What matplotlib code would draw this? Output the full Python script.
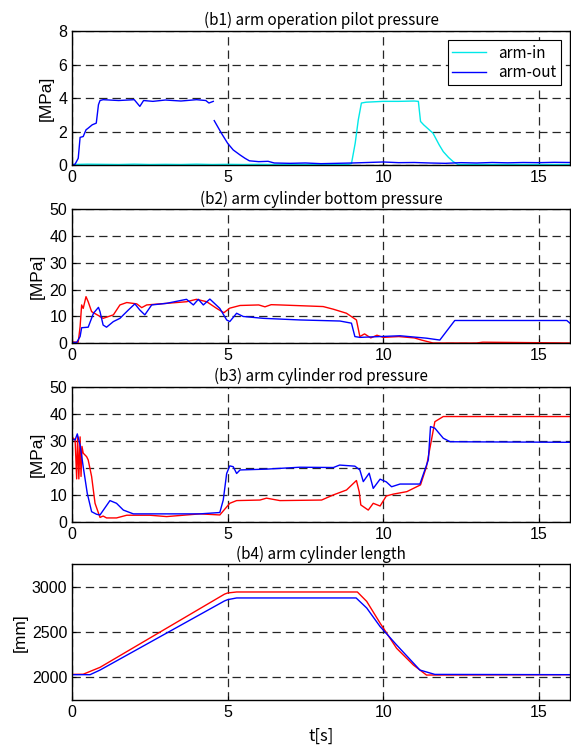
import matplotlib
matplotlib.use('Agg')
import matplotlib.pyplot as plt
import numpy as np

plt.rcParams['lines.scale_dashes'] = False
plt.rcParams['font.family'] = ['Liberation Sans', 'DejaVu Sans']

nan = np.nan

# (b1) arm operation pilot pressure [MPa]
t_pilot_in = [0, 0.5, 1.0, 1.5, 2.0, 2.5, 3.0, 3.5, 4.0, 4.5, 5.0, 5.5, 6.0, 6.5, 7.0, 7.5, 8.0, 8.5,
              8.9, 8.98, 9.1, 9.2, 9.3, 9.45, 10.0, 10.5, 11.0, 11.13, 11.2, 11.3, 11.6, 11.8, 11.93,
              12.1, 12.25, 12.4, 13.0, 14.0, 15.0, 16.0]
p_pilot_in = [0.03, 0.05, 0.04, 0.03, 0.05, 0.03, 0.04, 0.03, 0.05, 0.03, 0.04, 0.03, 0.04, 0.03,
              0.04, 0.03, 0.04, 0.03, 0.04, 0.08, 1.3, 2.7, 3.7, 3.75, 3.8, 3.8, 3.82, 3.8, 2.6,
              2.4, 1.9, 1.2, 0.8, 0.45, 0.2, 0.03, 0.03, 0.03, 0.03, 0.03]
t_pilot_out = [0, 0.1, 0.2, 0.26, 0.36, 0.45, 0.52, 0.65, 0.78, 0.85, 0.9, 1.0, 1.5, 2.0, 2.18,
               2.3, 2.6, 3.0, 3.5, 4.0, 4.3, 4.4, 4.54, 4.55, 4.57, 4.8, 5.0, 5.18, 5.4, 5.56, 5.7,
               6.0, 6.3, 6.5, 7.0, 7.5, 8.0, 8.5, 9.0, 9.5, 10.0, 10.5, 11.0, 11.5, 12.0, 12.5,
               13.0, 13.5, 14.0, 14.5, 15.0, 15.5, 16.0]
p_pilot_out = [0.0, 0.05, 0.4, 1.65, 1.7, 2.1, 2.2, 2.4, 2.5, 3.6, 3.85, 3.9, 3.85, 3.9, 3.5,
               3.85, 3.8, 3.88, 3.82, 3.9, 3.85, 3.7, 3.8, nan, 2.65, 1.9, 1.3, 0.9, 0.6, 0.4,
               0.25, 0.2, 0.22, 0.12, 0.1, 0.12, 0.08, 0.1, 0.12, 0.15, 0.18, 0.14, 0.15, 0.12,
               0.1, 0.14, 0.12, 0.15, 0.13, 0.15, 0.14, 0.16, 0.15]

# (b2) arm cylinder bottom pressure [MPa]
t_bot_r = [0, 0.2, 0.26, 0.31, 0.36, 0.45, 0.52, 0.63, 0.9, 1.0, 1.33, 1.54, 1.76, 2.08, 2.24,
           2.4, 3.04, 3.68, 4.0, 4.33, 4.65, 4.88, 5.07, 5.4, 6.0, 6.2, 6.4, 6.68, 8.07, 8.4,
           8.82, 9.14, 9.25, 9.4, 9.6, 9.8, 10.0, 10.5, 11.0, 11.23, 11.6, 13.0, 13.2, 16.0]
p_bot_r = [0.5, 0.4, 6.2, 14.3, 13.0, 17.4, 15.5, 11.8, 10.0, 9.3, 10.6, 14.3, 15.2, 14.7, 13.3,
           14.3, 14.9, 15.5, 16.4, 15.5, 13.0, 11.4, 13.1, 14.1, 14.3, 13.6, 14.4, 14.3, 13.7,
           12.7, 11.2, 8.7, 2.5, 3.5, 2.0, 3.0, 2.2, 2.5, 2.0, 1.2, 0.1, 0.1, 0.4, 0.1]
t_bot_b = [0, 0.15, 0.26, 0.31, 0.52, 0.69, 0.85, 0.9, 1.0, 1.11, 1.33, 1.54, 1.81, 2.02, 2.18,
           2.34, 2.56, 3.04, 3.68, 3.9, 4.06, 4.22, 4.43, 4.75, 4.97, 5.07, 5.29, 5.5, 6.15,
           7.32, 8.61, 8.98, 9.09, 9.25, 9.9, 10.54, 11.39, 11.82, 12.03, 12.3, 15.9, 16.0]
p_bot_b = [0.3, 0.3, 2.5, 5.8, 6.0, 11.2, 13.4, 11.8, 6.8, 6.0, 8.1, 9.3, 12.4, 14.7, 12.4,
           10.6, 14.3, 14.9, 16.4, 14.3, 16.4, 14.3, 16.5, 13.0, 8.7, 8.1, 11.2, 10.0, 9.3,
           8.7, 8.3, 7.5, 2.5, 2.2, 2.5, 2.8, 1.9, 1.2, 4.4, 8.5, 8.5, 7.5]

# (b3) arm cylinder rod pressure [MPa]
t_rod_r = [0, 0.1, 0.15, 0.18, 0.22, 0.26, 0.29, 0.32, 0.36, 0.47, 0.52, 0.63, 0.74, 0.9, 1.0,
           1.11, 1.43, 1.76, 2.5, 3.04, 4.11, 4.75, 5.07, 5.29, 6.04, 6.25, 6.68, 8.02, 8.4,
           8.82, 9.14, 9.23, 9.28, 9.52, 9.68, 9.9, 10.1, 10.33, 10.76, 11.2, 11.39, 11.66,
           11.93, 16.0]
p_rod_r = [31.4, 30.4, 16.0, 31.6, 16.0, 31.5, 16.9, 28.0, 25.5, 24.2, 23.0, 16.9, 7.0, 1.8,
           2.3, 1.6, 1.6, 2.6, 2.6, 2.1, 3.1, 2.7, 7.0, 8.0, 8.2, 8.9, 8.0, 8.2, 10.1, 11.9,
           15.4, 11.2, 6.4, 4.5, 7.0, 6.0, 9.7, 10.4, 11.3, 13.8, 20.5, 37.1, 39.0, 39.0]
t_rod_b = [0, 0.1, 0.17, 0.26, 0.36, 0.49, 0.63, 0.79, 0.9, 1.22, 1.43, 1.65, 1.97, 2.5, 3.04,
           4.11, 4.75, 4.86, 4.97, 5.07, 5.18, 5.29, 5.4, 6.25, 7.32, 8.4, 8.6, 9.09, 9.25,
           9.36, 9.55, 9.68, 9.9, 10.1, 10.27, 10.54, 11.18, 11.45, 11.52, 11.66, 11.93,
           12.15, 16.0]
p_rod_b = [30.6, 30.4, 32.6, 28.5, 20.5, 10.7, 3.9, 2.95, 2.7, 8.0, 7.0, 4.5, 3.1, 3.1, 3.1,
           3.1, 3.6, 8.2, 18.0, 20.8, 20.5, 18.0, 19.3, 19.6, 20.3, 20.2, 21.1, 20.7, 19.3,
           15.0, 18.1, 12.5, 15.9, 14.9, 13.1, 14.1, 14.1, 23.0, 35.3, 34.7, 31.0, 29.7, 29.5]

# (b4) arm cylinder length [mm]
t_len_r = [0, 0.36, 0.9, 4.9, 5.0, 5.29, 9.17, 9.47, 9.9, 10.43, 10.97, 11.39, 16.0]
l_len_r = [2033, 2035, 2111, 2920, 2933, 2944, 2944, 2840, 2600, 2322, 2137, 2026, 2030]
t_len_b = [0, 0.58, 0.9, 4.9, 5.0, 5.29, 9.13, 9.47, 9.9, 10.43, 11.18, 11.66, 16.0]
l_len_b = [2030, 2030, 2081, 2845, 2859, 2878, 2878, 2767, 2562, 2359, 2081, 2033, 2030]

titles = ['(b1) arm operation pilot pressure', '(b2) arm cylinder bottom pressure',
          '(b3) arm cylinder rod pressure', '(b4) arm cylinder length']
title_font = ['Noto Sans CJK JP', 'DejaVu Sans']

fig = plt.figure(figsize=(5.71, 7.49), dpi=100)
rects = [(0.1261, 0.7797, 0.872, 0.1789),
         (0.1261, 0.5417, 0.872, 0.1789),
         (0.1261, 0.3027, 0.872, 0.1810),
         (0.1261, 0.0654, 0.872, 0.1812)]
axes = [fig.add_axes(r) for r in rects]

axes[0].plot(t_pilot_in, p_pilot_in, color='#00e8e8', lw=1.0, label='arm-in')
axes[0].plot(t_pilot_out, p_pilot_out, color='#0000ff', lw=1.0, label='arm-out')
axes[1].plot(t_bot_r, p_bot_r, color='#ff0000', lw=1.0)
axes[1].plot(t_bot_b, p_bot_b, color='#0000ff', lw=1.0)
axes[2].plot(t_rod_r, p_rod_r, color='#ff0000', lw=1.0)
axes[2].plot(t_rod_b, p_rod_b, color='#0000ff', lw=1.0)
axes[3].plot(t_len_r, l_len_r, color='#ff0000', lw=1.0)
axes[3].plot(t_len_b, l_len_b, color='#0000ff', lw=1.0)

ylims = [(0, 8), (0, 50), (0, 50), (1750, 3250)]
yticks = [[0, 2, 4, 6, 8], [0, 10, 20, 30, 40, 50], [0, 10, 20, 30, 40, 50], [2000, 2500, 3000]]
ylabels = ['[MPa]', '[MPa]', '[MPa]', '[mm]']

for ax, title, yl, yt, ylab in zip(axes, titles, ylims, yticks, ylabels):
    ax.set_xlim(0, 16)
    ax.set_ylim(*yl)
    ax.set_xticks([0, 5, 10, 15])
    ax.set_yticks(yt)
    ax.tick_params(direction='in', length=3, labelsize=11.5, width=0.8)
    ax.grid(True, color='0.15', lw=0.9, linestyle=(0, (6, 3.6)))
    ax.set_title(title, fontsize=11, family=title_font, pad=4)
    ax.set_ylabel(ylab, fontsize=12.5, labelpad=3)
    for s in ax.spines.values():
        s.set_linewidth(1.0)

axes[3].set_xlabel('t[s]', fontsize=12, family=title_font, labelpad=6)

leg = axes[0].legend(loc='upper right', bbox_to_anchor=(0.982, 0.933), fancybox=False,
                     framealpha=1, edgecolor='black', prop={'family': title_font, 'size': 11},
                     handlelength=2.2, borderaxespad=0, labelspacing=0.15, borderpad=0.3)
leg.get_frame().set_linewidth(0.8)

fig.savefig('out.png', dpi=100)
